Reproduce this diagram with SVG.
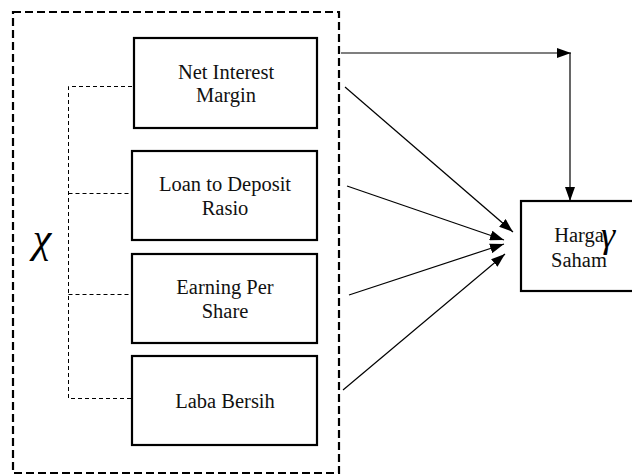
<svg xmlns="http://www.w3.org/2000/svg" width="632" height="475" viewBox="0 0 632 475">
<defs>
<style>
.box{fill:#fff;stroke:#000;stroke-width:2.2}
.lbl{font-family:"Liberation Serif","Times New Roman",serif;font-size:20.5px;fill:#111;text-anchor:middle}
.sym{font-family:"Liberation Serif","Times New Roman",serif;font-style:italic;fill:#000}
.arr{fill:none;stroke:#000;stroke-width:1.2}
.thin{fill:none;stroke:#000;stroke-width:1;stroke-dasharray:4 3}
</style>
<marker id="ah" viewBox="0 0 14 10" refX="14" refY="5" markerWidth="14" markerHeight="10" markerUnits="userSpaceOnUse" orient="auto">
<path d="M0,0 L14,5 L0,10 Z" fill="#000"/>
</marker>
</defs>
<rect width="632" height="475" fill="#fff"/>
<g id="frame">
<rect x="13" y="12" width="326" height="461" fill="none" stroke="#000" stroke-width="2.2" stroke-dasharray="8 4"/>
<path class="thin" d="M132,86.5 H68.5 V398.5 H132 M68.5,193.5 H132 M68.5,294.5 H132"/>
<text class="sym" x="42" y="252" font-size="42" text-anchor="middle">χ</text>
</g>
<g id="nim">
<rect class="box" x="134" y="38" width="183" height="90"/>
<text class="lbl" x="226" y="79">Net Interest</text>
<text class="lbl" x="226" y="102">Margin</text>
</g>
<g id="ldr">
<rect class="box" x="132" y="151" width="185" height="89"/>
<text class="lbl" x="225" y="191">Loan to Deposit</text>
<text class="lbl" x="225" y="215">Rasio</text>
</g>
<g id="eps">
<rect class="box" x="132" y="254" width="185" height="89"/>
<text class="lbl" x="225" y="294">Earning Per</text>
<text class="lbl" x="225" y="318">Share</text>
</g>
<g id="laba">
<rect class="box" x="132" y="356" width="185" height="89"/>
<text class="lbl" x="225" y="408">Laba Bersih</text>
</g>
<g id="harga">
<rect class="box" x="521" y="201" width="120" height="90"/>
<text class="lbl" x="579" y="242">Harga</text>
<text class="lbl" x="579" y="267">Saham</text>
<text class="sym" x="608" y="247" font-size="36" text-anchor="middle">γ</text>
</g>
<g id="connectors">
<path class="arr" d="M341,53 H571" marker-end="url(#ah)"/>
<path class="arr" d="M570,53 V201" marker-end="url(#ah)"/>
<path class="arr" d="M345,87 L513,232" marker-end="url(#ah)"/>
<path class="arr" d="M347,186 L504,240" marker-end="url(#ah)"/>
<path class="arr" d="M349,295 L504,244" marker-end="url(#ah)"/>
<path class="arr" d="M343,390 L505,254" marker-end="url(#ah)"/>
</g>
</svg>
